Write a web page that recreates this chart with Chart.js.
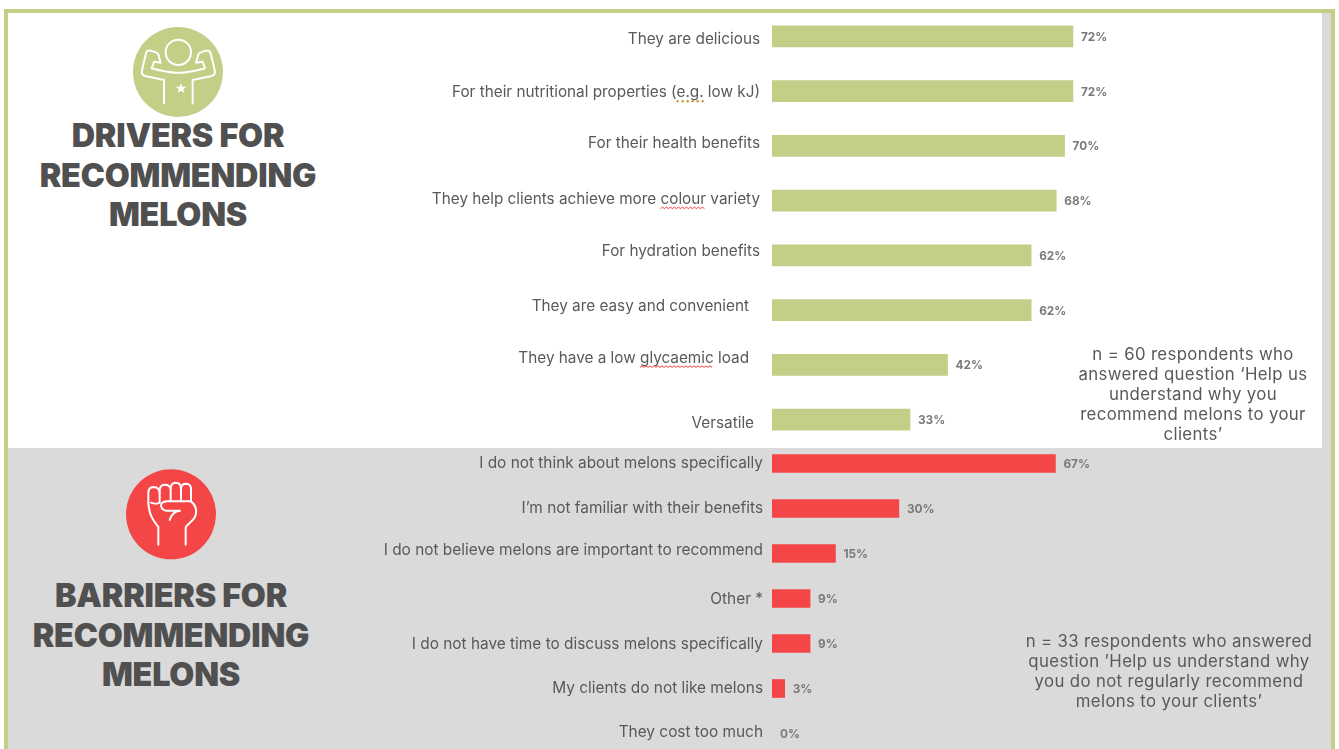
<!DOCTYPE html>
<html>
<head>
<meta charset="utf-8">
<title>Melons</title>
<script src="https://cdn.jsdelivr.net/npm/chart.js@4"></script>
<style>
    html, body { margin: 0; height: 100%; background: #fff; overflow: hidden; }
    .sheet { position: absolute; left: 0; top: 0; width: 1339px; height: 749px; overflow: hidden; }
    .greyPanel { position: absolute; left: 8px; top: 13px; width: 1323px; height: 736px; background: #dadada; }
    .whitePanel { position: absolute; left: 8px; top: 13px; width: 1314px; height: 435px; background: #fff; }
    .edge { position: absolute; background: #c3cf87; }
    .edgeLeft { left: 4px; top: 9px; width: 4px; height: 740px; }
    .edgeTop { left: 4px; top: 9px; width: 1331px; height: 4px; }
    .edgeRight { left: 1331px; top: 9px; width: 4px; height: 740px; }
    canvas { position: absolute; left: 0; }
    .heading {
        position: absolute; width: 340px; text-align: center; color: #505050;
        font: 900 32.3px/39.5px Inter, sans-serif; letter-spacing: -0.2px;
    }
    .note {
        position: absolute; width: 340px; text-align: center; color: #595959;
        font: 400 16.8px/20.1px Inter, sans-serif; letter-spacing: 0.35px;
    }
    svg { position: absolute; }
</style>
</head>
<body>
<div class="sheet">
    <div class="greyPanel"></div>
    <div class="whitePanel"></div>
    <div class="edge edgeLeft"></div>
    <div class="edge edgeTop"></div>
    <div class="edge edgeRight"></div>

    <svg style="left:120px;top:20px" width="115" height="100" viewBox="0 0 345 300">
        <circle cx="174" cy="156" r="135" fill="#c3cf87"/>
        <g fill="none" stroke="#fff" stroke-width="6" stroke-linejoin="round" stroke-linecap="round">
            <circle cx="175" cy="97" r="38"/>
            <path d="M132 250V180L75 168Q62 164 66 150L78 100Q81 89 92 92L108 97Q116 100 117 110L122 128L102 125L95 145Q150 160 175 158Q200 160 255 145L248 125L228 128L233 110Q234 100 242 97L258 92Q269 89 272 100L284 150Q288 164 275 168L218 180V250"/>
        </g>
        <polygon fill="#fff" points="183,189 187,200 199,200 190,207 193,219 183,212 173,219 176,207 167,200 179,200"/>
    </svg>
    <div class="heading" style="left:8px;top:116px">DRIVERS FOR<br>RECOMMENDING<br>MELONS</div>

    <svg style="left:115px;top:462px" width="115" height="105" viewBox="0 0 345 315">
        <circle cx="168" cy="157" r="135" fill="#f44646"/>
        <g fill="none" stroke="#fff" stroke-width="6" stroke-linejoin="round" stroke-linecap="round">
            <path d="M130 248V195C116 176 104 165 100 125V92Q100 76 116 75Q132 76 134 92V122Q124 128 108 122"/>
            <path d="M134 92V82Q136 68 150 68Q165 68 167 82V118"/>
            <path d="M167 78Q169 62 182 62Q197 62 198 78V118"/>
            <path d="M198 78Q200 65 213 65Q228 66 228 80V118"/>
            <path d="M228 118C245 130 246 150 240 165C232 180 214 188 212 197V248"/>
            <path d="M228 118H155Q138 120 138 131Q140 145 155 146H195Q172 148 164 174"/>
        </g>
    </svg>
    <div class="heading" style="left:1px;top:576px">BARRIERS FOR<br>RECOMMENDING<br>MELONS</div>

    <canvas id="driversChart" style="top:9px"></canvas>
    <canvas id="barriersChart" style="top:441px"></canvas>

    <div class="note" style="left:1023px;top:344px">n = 60 respondents who<br>answered question ‘Help us<br>understand why you<br>recommend melons to your<br>clients’</div>
    <div class="note" style="left:999px;top:631px">n = 33 respondents who answered<br>question ’Help us understand why<br>you do not regularly recommend<br>melons to your clients’</div>
</div>

<script>
const driverLabels = [
    "They are delicious",
    "For their nutritional properties (e.g. low kJ)",
    "For their health benefits",
    "They help clients achieve more colour variety",
    "For hydration benefits",
    "They are easy and convenient",
    "They have a low glycaemic load",
    "Versatile",
];
const driverValues = [72, 72, 70, 68, 62, 62, 42, 33];

const barrierLabels = [
    "I do not think about melons specifically",
    "I’m not familiar with their benefits",
    "I do not believe melons are important to recommend",
    "Other *",
    "I do not have time to discuss melons specifically",
    "My clients do not like melons",
    "They cost too much",
];
const barrierValues = [67, 30, 15, 9, 9, 3, 0];

// the text boxes sit a little off their bars, so each row gets its own nudge
const driverNudgeY = [3.5, 1, -2.5, -1, -4, -3.5, -6.5, 4];
const driverRight = [760, 760, 760, 760, 760, 749, 749, 754];
const barrierNudgeY = [-0.5, -0.5, -3.5, 0.5, 1, 0, -1];
const barrierRight = [763, 763, 763, 763, 763, 763, 763];

const driverMarks = [
    { row: 1, word: "e.g.", colour: "#b8860b", dotted: true },
    { row: 3, word: "colour", colour: "#f04040" },
    { row: 6, word: "glycaemic", colour: "#f04040" },
];

const valueFont = '700 11.8px Inter, sans-serif';

const rowLabelsPlugin = {
    id: "rowLabels",
    afterDatasetsDraw(chart, args, opts) {
        const ctx = chart.ctx;
        const scale = chart.scales.y;
        const bars = chart.getDatasetMeta(0).data;

        ctx.save();
        ctx.textBaseline = "middle";
        chart.data.labels.forEach((label, i) => {
            const y = scale.getPixelForValue(i) + opts.nudgeY[i];
            ctx.font = opts.font;
            ctx.fillStyle = "#595959";
            ctx.textAlign = "right";
            ctx.fillText(label, opts.right[i], y);

            const mark = opts.marks.find((m) => m.row === i);
            if (mark) {
                const textLeft = opts.right[i] - ctx.measureText(label).width;
                const before = label.slice(0, label.indexOf(mark.word));
                const x0 = textLeft + ctx.measureText(before).width;
                const x1 = x0 + ctx.measureText(mark.word).width;
                drawSpellMark(ctx, x0, x1, y + 9, mark);
            }

            ctx.font = valueFont;
            ctx.fillStyle = "#7a7a7a";
            ctx.textAlign = "left";
            ctx.fillText(chart.data.datasets[0].data[i] + "%", bars[i].x + 8, bars[i].y + 1);
        });
        ctx.restore();
    },
};

function drawSpellMark(ctx, x0, x1, y, mark) {
    ctx.save();
    ctx.strokeStyle = mark.colour;
    ctx.lineWidth = 1;
    if (mark.dotted) {
        ctx.lineWidth = 2;
        ctx.setLineDash([2, 3]);
        ctx.beginPath();
        ctx.moveTo(x0, y);
        ctx.lineTo(x1, y);
        ctx.stroke();
    } else {
        ctx.beginPath();
        ctx.moveTo(x0, y);
        for (let x = x0 + 2, up = true; x <= x1; x += 2, up = !up) {
            ctx.lineTo(x, up ? y - 1.5 : y);
        }
        ctx.stroke();
    }
    ctx.restore();
}

function createBarPanel(id, height, labels, values, colour, thickness, plotWidth, labelOpts) {
    const canvas = document.getElementById(id);
    canvas.width = 1339;
    canvas.height = height;

    return new Chart(canvas, {
        type: "bar",
        data: {
            labels: labels,
            datasets: [{
                data: values,
                // a 0% row still leaves a hairline otherwise
                backgroundColor: (c) => (c.raw === 0 ? "transparent" : colour),
                barThickness: thickness,
            }],
        },
        options: {
            indexAxis: "y",
            responsive: false,
            animation: false,
            layout: {
                padding: { left: 772, right: 1339 - 772 - plotWidth, top: 0, bottom: 0 },
            },
            scales: {
                x: { display: false, min: 0, max: 100 },
                y: { display: false },
            },
            plugins: {
                legend: { display: false },
                tooltip: { enabled: false },
                rowLabels: labelOpts,
            },
        },
        plugins: [rowLabelsPlugin],
    });
}

createBarPanel("driversChart", 438, driverLabels, driverValues, "#c3cf87", 21, 418, {
    nudgeY: driverNudgeY,
    right: driverRight,
    marks: driverMarks,
    font: '400 15.3px Inter, sans-serif',
});

createBarPanel("barriersChart", 315, barrierLabels, barrierValues, "#f44646", 18, 423, {
    nudgeY: barrierNudgeY,
    right: barrierRight,
    marks: [],
    font: '400 15.4px Inter, sans-serif',
});
</script>
</body>
</html>
